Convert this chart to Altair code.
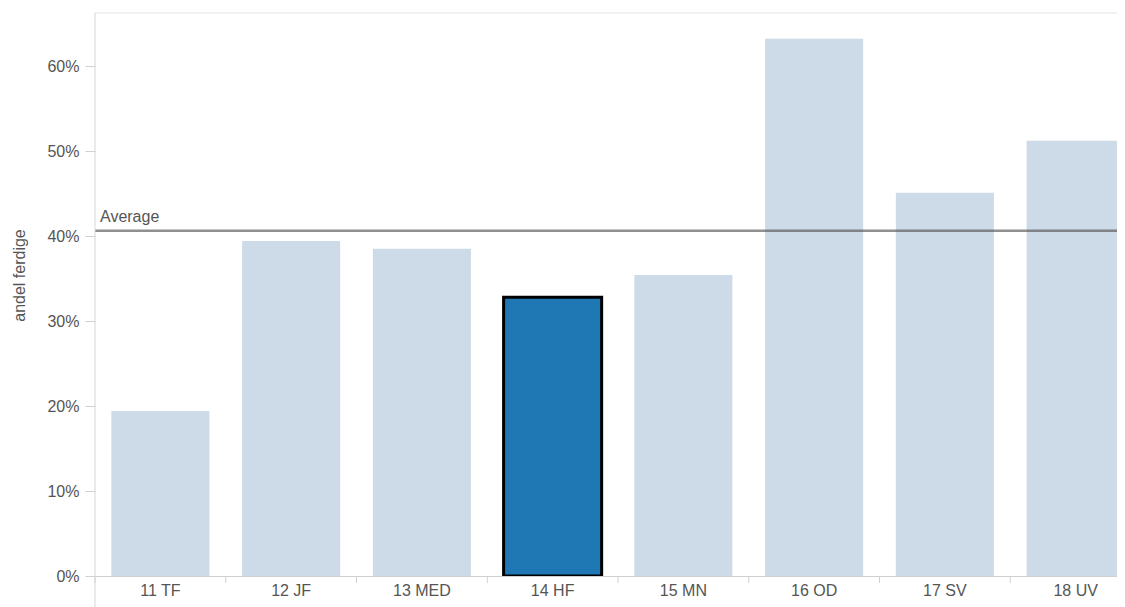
import altair as alt
import pandas as pd

categories = ["11 TF", "12 JF", "13 MED", "14 HF", "15 MN", "16 OD", "17 SV", "18 UV"]
values = [0.194, 0.394, 0.385, 0.328, 0.354, 0.632, 0.451, 0.512]
highlight = "14 HF"
y_ticks = [0, 0.1, 0.2, 0.3, 0.4, 0.5, 0.6]

df = pd.DataFrame({"cat": categories, "val": values})

W, H = 1022, 563
STEP_RANGE = 1046
HALF_STEP = STEP_RANGE / len(categories) / 2
FONT = "Liberation Sans"
FS = 16
LIGHT = "#cddbe8"
DARK = "#1f77b4"
TXT = "#555555"
AXC = "#d0d0d0"

base = alt.Chart(df)

x_scale = alt.Scale(range=[0, STEP_RANGE], paddingInner=0.25, paddingOuter=0.125)
x_enc = alt.X(
    "cat:N",
    sort=categories,
    title=None,
    scale=x_scale,
    axis=alt.Axis(
        labelAngle=0, labelFont=FONT, labelFontSize=FS, labelColor=TXT,
        ticks=False, labelPadding=6,
        domainColor=AXC, domainWidth=1, grid=False,
    ),
)
y_enc = alt.Y(
    "val:Q",
    scale=alt.Scale(domain=[0, 0.6624], nice=False, zero=True),
    axis=alt.Axis(
        values=y_ticks, format=".0%", title="andel ferdige", labelFont=FONT,
        labelFontSize=FS, labelColor=TXT, tickColor=AXC, tickSize=10,
        labelPadding=6, domain=False, grid=False, titleFont=FONT,
        titleFontSize=FS, titleFontWeight="normal", titleColor=TXT,
        titleY=262, titlePadding=19,
    ),
)

cond = alt.datum.cat == highlight

bars = base.mark_bar(clip=True).encode(
    x=x_enc,
    y=y_enc,
    color=alt.condition(cond, alt.value(DARK), alt.value(LIGHT)),
    stroke=alt.condition(cond, alt.value("#000000"), alt.value("transparent")),
    strokeWidth=alt.condition(cond, alt.value(3), alt.value(0)),
)

# category boundary ticks below the axis (midway between bars)
x_ticks = base.mark_rule(color=AXC, strokeWidth=1, xOffset=-HALF_STEP).encode(
    x=alt.X("cat:N", sort=categories),
    y=alt.value(H),
    y2=alt.value(H + 7),
)

avg_rule = base.mark_rule(color="#555555", opacity=0.65, strokeWidth=2.5).encode(
    y=alt.Y("mean(val):Q")
)
avg_text = base.mark_text(
    align="left", baseline="bottom", dx=5, dy=-6, font=FONT, fontSize=FS, color=TXT
).encode(
    y=alt.Y("mean(val):Q"),
    x=alt.value(0),
    text=alt.value("Average"),
)

one = alt.Chart(pd.DataFrame({"a": [0]}))
top_line = one.mark_rule(color="#e3e3e3", strokeWidth=1).encode(
    x=alt.value(0), x2=alt.value(W), y=alt.value(0)
)
left_line = one.mark_rule(color="#d6d6d6", strokeWidth=1).encode(
    x=alt.value(0), y=alt.value(0), y2=alt.value(H + 31)
)

chart = (
    alt.layer(bars, x_ticks, avg_rule, avg_text, top_line, left_line)
    .properties(
        width=W, height=H,
        autosize=alt.AutoSizeParams(type="none"),
        padding={"left": 87, "top": 5, "right": 0, "bottom": 31},
    )
    .configure_view(stroke=None)
)

chart.save("out.html", embed_options={"renderer": "svg", "actions": False})
